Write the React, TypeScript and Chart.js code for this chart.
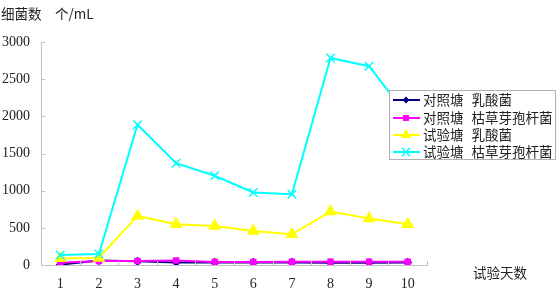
import React, { useEffect, useRef } from "react";
import { Chart, registerables } from "chart.js";

Chart.register(...registerables);

const days = ["1", "2", "3", "4", "5", "6", "7", "8", "9", "10"];
const yTicks = [0, 500, 1000, 1500, 2000, 2500, 3000];
const seriesNames = [
  "对照塘 乳酸菌",
  "对照塘 枯草芽孢杆菌",
  "试验塘 乳酸菌",
  "试验塘 枯草芽孢杆菌",
];
const controlLactic = [5, 60, 50, 35, 35, 35, 35, 30, 30, 35];
const controlBacillus = [30, 55, 55, 60, 40, 40, 45, 45, 45, 45];
const testLactic = [90, 95, 660, 548, 526, 458, 413, 719, 625, 548];
const testBacillus = [135, 148, 1887, 1370, 1200, 975, 953, 2785, 2675, 2000];
const yTitle = "细菌数　个/mL";
const xTitle = "试验天数";

const CJK = '"Noto Sans CJK SC", sans-serif';
const SERIF = '"Liberation Serif", "DejaVu Serif", serif';

const styles = [
  { color: "#000080", style: "rectRot", r: 3.5 },
  { color: "#ff00ff", style: "rect", r: 3.5 },
  { color: "#ffff00", style: "triangle", r: 6 },
  { color: "#00ffff", style: "crossRot", r: 6 },
];

function marker(ctx: CanvasRenderingContext2D, kind: string, r: number, x: number, y: number, color: string) {
  ctx.save();
  ctx.fillStyle = color;
  ctx.strokeStyle = color;
  ctx.lineWidth = 1.5;
  ctx.beginPath();
  if (kind === "rectRot") {
    ctx.moveTo(x, y - r);
    ctx.lineTo(x + r, y);
    ctx.lineTo(x, y + r);
    ctx.lineTo(x - r, y);
    ctx.closePath();
    ctx.fill();
  } else if (kind === "rect") {
    const s = r * 0.85;
    ctx.rect(x - s, y - s, 2 * s, 2 * s);
    ctx.fill();
  } else if (kind === "triangle") {
    ctx.moveTo(x, y - r);
    ctx.lineTo(x + r * 0.87, y + r * 0.5);
    ctx.lineTo(x - r * 0.87, y + r * 0.5);
    ctx.closePath();
    ctx.fill();
  } else {
    const d = r * 0.7;
    ctx.moveTo(x - d, y - d);
    ctx.lineTo(x + d, y + d);
    ctx.moveTo(x + d, y - d);
    ctx.lineTo(x - d, y + d);
    ctx.stroke();
  }
  ctx.restore();
}

export default function App() {
  const ref = useRef<HTMLCanvasElement | null>(null);
  useEffect(() => {
    document.body.style.margin = "0";
    const canvas = ref.current;
    if (!canvas) return;
    const dataArr = [controlLactic, controlBacillus, testLactic, testBacillus];
    const decor = {
      id: "decor",
      beforeDraw(c: any) {
        c.ctx.save();
        c.ctx.fillStyle = "#ffffff";
        c.ctx.fillRect(0, 0, c.width, c.height);
        c.ctx.restore();
      },
      afterDraw(chart: any) {
        const ctx = chart.ctx as CanvasRenderingContext2D;
        const area = chart.chartArea;
        const ys = chart.scales.y;
        ctx.save();
        ctx.strokeStyle = "#c0c0c0";
        ctx.lineWidth = 1;
        ctx.beginPath();
        for (const v of yTicks) {
          const y = Math.round(ys.getPixelForValue(v)) + 0.5;
          ctx.moveTo(area.left, y);
          ctx.lineTo(area.left + 4, y);
        }
        const step = (area.right - area.left) / days.length;
        for (let i = 1; i <= days.length; i++) {
          const x = Math.round(area.left + step * i) + 0.5;
          ctx.moveTo(x, area.bottom);
          ctx.lineTo(x, area.bottom - 4);
        }
        ctx.stroke();
        ctx.fillStyle = "#222";
        ctx.font = `13.5px ${CJK}`;
        ctx.textBaseline = "middle";
        ctx.textAlign = "left";
        ctx.fillText(yTitle, 1, 14);
        ctx.fillText(xTitle, 473, 273);
        const bx = 389.5, by = 90.5, bw = 166, bh = 69;
        ctx.fillStyle = "#ffffff";
        ctx.fillRect(bx, by, bw, bh);
        ctx.strokeStyle = "#b0b0b0";
        ctx.strokeRect(bx, by, bw, bh);
        const rows = [100, 118, 135, 152];
        for (let i = 0; i < seriesNames.length; i++) {
          const y = rows[i];
          const s = styles[i];
          ctx.strokeStyle = s.color;
          ctx.lineWidth = 2;
          ctx.beginPath();
          ctx.moveTo(393, y);
          ctx.lineTo(420, y);
          ctx.stroke();
          marker(ctx, s.style, s.r, 406, y, s.color);
          ctx.fillStyle = "#222";
          ctx.font = `13.5px ${CJK}`;
          ctx.textAlign = "left";
          ctx.textBaseline = "middle";
          const parts = seriesNames[i].split(" ");
          ctx.fillText(parts[0], 423, y);
          ctx.fillText(parts[1], 423 + ctx.measureText(parts[0]).width + 8, y);
        }
        ctx.restore();
      },
    };
    const chart = new Chart(canvas, {
      type: "line",
      data: {
        labels: days,
        datasets: dataArr.map((d, i) => ({
          label: seriesNames[i],
          data: d,
          borderColor: styles[i].color,
          backgroundColor: styles[i].color,
          pointStyle: styles[i].style as any,
          pointRadius: styles[i].r,
          pointBorderWidth: 1.5,
          borderWidth: 2,
          tension: 0,
          order: [3, 2, 1, 0][i],
        })),
      },
      options: {
        animation: false,
        responsive: false,
        maintainAspectRatio: false,
        layout: { padding: { top: 42, right: 133, left: 0, bottom: 0 } },
        plugins: {
          legend: { display: false },
          tooltip: { enabled: false },
        },
        scales: {
          x: {
            offset: true,
            grid: { display: false },
            border: { color: "#c0c0c0", width: 1 },
            ticks: {
              color: "#222",
              font: { family: SERIF, size: 14 },
              padding: 3,
              maxRotation: 0,
            },
            afterFit(scale: any) {
              scale.height = 29;
            },
          },
          y: {
            min: 0,
            max: 3000,
            grid: { display: false },
            border: { color: "#c0c0c0", width: 1 },
            afterBuildTicks(scale: any) {
              scale.ticks = yTicks.map((v) => ({ value: v }));
            },
            ticks: {
              color: "#222",
              font: { family: SERIF, size: 14 },
              padding: 3,
              callback: (v: any) => String(v),
            },
            afterFit(scale: any) {
              scale.width = 41;
            },
          },
        },
      },
      plugins: [decor],
    });
    return () => chart.destroy();
  }, []);
  return (
    <div style={{ width: 560, height: 294 }}>
      <canvas ref={ref} width={560} height={294} style={{ width: 560, height: 294, display: "block" }} />
    </div>
  );
}
